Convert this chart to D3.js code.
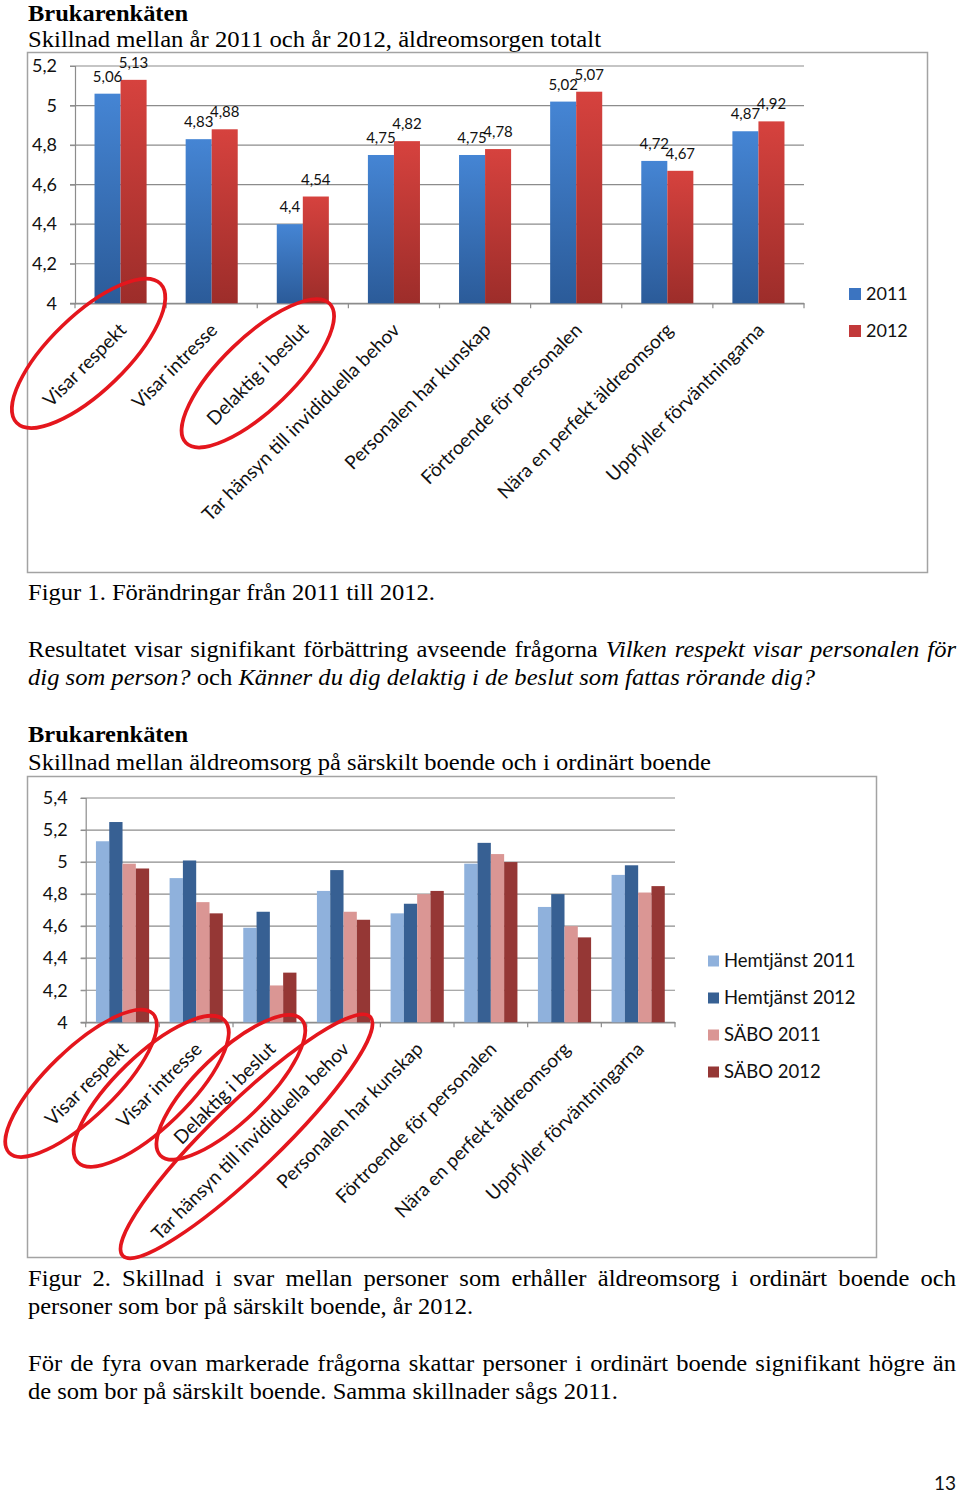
<!DOCTYPE html>
<html><head><meta charset="utf-8">
<script src="https://cdn.jsdelivr.net/npm/d3@7"></script>
<style>body{margin:0;background:#fff}svg{display:block}</style>
</head><body>
<svg id="s" width="960" height="1494"></svg>
<script>
// ---------- data ----------
const categories = ["Visar respekt","Visar intresse","Delaktig i beslut","Tar hänsyn till invididuella behov","Personalen har kunskap","Förtroende för personalen","Nära en perfekt äldreomsorg","Uppfyller förväntningarna"];
const years = ["2011","2012"];
const total2011 = [5.06,4.83,4.4,4.75,4.75,5.02,4.72,4.87];
const total2012 = [5.13,4.88,4.54,4.82,4.78,5.07,4.67,4.92];
const ticks1 = [4,4.2,4.4,4.6,4.8,5,5.2];

const groups2 = ["Hemtjänst 2011","Hemtjänst 2012","SÄBO 2011","SÄBO 2012"];
const hemtjanst2011 = [5.13,4.90,4.59,4.82,4.68,4.99,4.72,4.92];
const hemtjanst2012 = [5.25,5.01,4.69,4.95,4.74,5.12,4.80,4.98];
const sabo2011 = [4.99,4.75,4.23,4.69,4.80,5.05,4.60,4.81];
const sabo2012 = [4.96,4.68,4.31,4.64,4.82,5.00,4.53,4.85];
const ticks2 = [4,4.2,4.4,4.6,4.8,5,5.2,5.4];

const highlight1 = ["Visar respekt","Delaktig i beslut"];
const highlight2 = ["Visar respekt","Visar intresse","Delaktig i beslut","Tar hänsyn till invididuella behov"];

// ---------- setup ----------
const svg = d3.select("#s");
const SANS = "Lato, 'Open Sans', sans-serif";
const SERIF = "'Liberation Serif', 'Times New Roman', serif";
const fmt = v => String(v).replace(".", ",");
const defs = svg.append("defs");
function grad(id, top, bottom){
  const g = defs.append("linearGradient").attr("id", id).attr("x1",0).attr("y1",0).attr("x2",0).attr("y2",1);
  g.append("stop").attr("offset","0%").attr("stop-color",top);
  g.append("stop").attr("offset","100%").attr("stop-color",bottom);
}
grad("gBlue","#4585d4","#2b5b99");
grad("gRed","#d6423e","#9d2d2a");

// ---------- body text ----------
const FS = 24;
function measure(txt, bold, italic){
  const t = svg.append("text").attr("font-family",SERIF).attr("font-size",FS)
    .attr("font-weight",bold?"bold":"normal").attr("font-style",italic?"italic":"normal").text(txt);
  const w = t.node().getComputedTextLength(); t.remove(); return w;
}
const textLines = [
  {y:21, w:160, bold:true, seg:[["Brukarenkäten",0]]},
  {y:47, w:573, seg:[["Skillnad mellan år 2011 och år 2012, äldreomsorgen totalt",0]]},
  {y:600, w:407, seg:[["Figur 1. Förändringar från 2011 till 2012.",0]]},
  {y:657, justify:true, seg:[["Resultatet visar signifikant förbättring avseende frågorna",0],["Vilken respekt visar personalen för",1]]},
  {y:685, w:787, seg:[["dig som person?",1],["och",0],["Känner du dig delaktig i de beslut som fattas rörande dig?",1]]},
  {y:742, w:160, bold:true, seg:[["Brukarenkäten",0]]},
  {y:770, w:683, seg:[["Skillnad mellan äldreomsorg på särskilt boende och i ordinärt boende",0]]},
  {y:1286, justify:true, seg:[["Figur 2. Skillnad i svar mellan personer som erhåller äldreomsorg i ordinärt boende och",0]]},
  {y:1314, w:445, seg:[["personer som bor på särskilt boende, år 2012.",0]]},
  {y:1371, justify:true, seg:[["För de fyra ovan markerade frågorna skattar personer i ordinärt boende signifikant högre än",0]]},
  {y:1399, w:590, seg:[["de som bor på särskilt boende. Samma skillnader sågs 2011.",0]]}
];
const X0 = 28, X1 = 956;
const spaceW = measure("a a",false,false) - measure("aa",false,false);
textLines.forEach(L => {
  L.words = [];
  L.seg.forEach(([s,it]) => s.split(" ").forEach(w => L.words.push({w, it, nat: measure(w, L.bold, it)})));
  L.sum = d3.sum(L.words, d => d.nat);
});
const ks = textLines.filter(L => !L.justify && !L.bold).map(L => L.w / (L.sum + spaceW*(L.words.length-1)));
const K = d3.mean(ks);
textLines.forEach(L => {
  let k, gap;
  if (L.justify){ k = K; gap = (X1 - X0 - L.sum*k)/(L.words.length-1); }
  else { k = L.w / (L.sum + spaceW*(L.words.length-1)); gap = spaceW*k; }
  let x = X0;
  L.words.forEach(d => {
    svg.append("text").attr("x",x).attr("y",L.y).attr("font-family",SERIF).attr("font-size",FS)
      .attr("font-weight",L.bold?"bold":"normal").attr("font-style",d.it?"italic":"normal")
      .attr("textLength", d.nat*k).attr("lengthAdjust","spacingAndGlyphs").attr("fill","#000").text(d.w);
    x += d.nat*k + gap;
  });
});

// ---------- generic chart ----------
function chart(o){
  svg.append("rect").attr("x",o.frame[0]).attr("y",o.frame[1]).attr("width",o.frame[2]).attr("height",o.frame[3])
    .attr("fill","none").attr("stroke","#a3a3a3").attr("stroke-width",1.5);
  const x0 = d3.scaleBand().domain(categories).range([o.left,o.right]);
  const x1 = d3.scaleBand().domain(o.keys).range([0,x0.bandwidth()]).paddingOuter(o.pad);
  const y = d3.scaleLinear().domain(o.domain).range([o.bottom,o.top]);
  const g = svg.append("g");
  g.selectAll(".gl").data(o.ticks).join("line")
    .attr("x1",o.left-5).attr("x2",o.right).attr("y1",d=>y(d)).attr("y2",d=>y(d))
    .attr("stroke","#8c8c8c").attr("stroke-width",1.2);
  const ya = g.append("g").attr("transform",`translate(${o.left},0)`)
    .call(d3.axisLeft(y).tickValues(o.ticks).tickFormat(fmt).tickSize(5).tickPadding(13));
  ya.select(".domain").attr("stroke","#8c8c8c").attr("stroke-width",1.2);
  ya.selectAll(".tick line").attr("stroke","#8c8c8c");
  ya.selectAll(".tick text").attr("font-family",SANS).attr("font-size",18).attr("fill","#111");
  const xa = g.append("g").attr("transform",`translate(0,${o.bottom})`)
    .call(d3.axisBottom(x0).tickSize(0).tickFormat(""));
  xa.select(".domain").attr("stroke","#8c8c8c").attr("stroke-width",1.2);
  const bounds = categories.map(c => x0(c)).concat([o.right]);
  g.selectAll(".xt").data(bounds).join("line").attr("x1",d=>d).attr("x2",d=>d)
    .attr("y1",o.bottom).attr("y2",o.bottom+5).attr("stroke","#8c8c8c").attr("stroke-width",1.2);
  const rows = categories.map((c,i) => o.keys.map((k,j) => ({c, k, v:o.series[j][i], j})));
  const bg = g.selectAll(".grp").data(rows).join("g").attr("transform",(d,i)=>`translate(${x0(categories[i])},0)`);
  bg.selectAll("rect").data(d=>d).join("rect")
    .attr("x",d=>x1(d.k)).attr("width",x1.bandwidth())
    .attr("y",d=>y(d.v)).attr("height",d=>y(o.domain[0])-y(d.v))
    .attr("fill",d=>o.colors[d.j]);
  if (o.labels){
    bg.selectAll("text.lab").data(d=>d).join("text").attr("class","lab")
      .attr("x",d=>x1(d.k)+x1.bandwidth()/2).attr("y",d=>y(d.v)-12)
      .attr("text-anchor","middle").attr("font-family",SANS).attr("font-size",15).attr("fill","#111")
      .text(d=>fmt(d.v));
  }
  g.selectAll(".cl").data(categories).join("text")
    .attr("transform",d=>`translate(${x0(d)+x0.bandwidth()/2+o.labDx},${o.bottom+o.labDy}) rotate(-45)`)
    .attr("text-anchor","end").attr("font-family",SANS).attr("font-size",19).attr("fill","#111").text(d=>d);
  o.keys.forEach((k,j) => {
    const ly = o.legY + j*o.legStep;
    g.append("rect").attr("x",o.legX).attr("y",ly-o.legSq/2).attr("width",o.legSq).attr("height",o.legSq).attr("fill",o.legColors[j]);
    g.append("text").attr("x",o.legX+o.legSq+5).attr("y",ly).attr("dy","0.35em")
      .attr("font-family",SANS).attr("font-size",o.legFs).attr("fill","#111").text(k);
  });
  o.marks.forEach(m => {
    const cx = x0(m.c)+x0.bandwidth()/2;
    g.append("ellipse").attr("transform",`translate(${cx+m.dx},${o.bottom+m.dy}) rotate(-44)`)
      .attr("rx",m.rx).attr("ry",m.ry).attr("fill","none").attr("stroke","#e4161d").attr("stroke-width",3.6);
  });
}

chart({
  frame:[27.5,52.5,900,520], left:75, right:804, top:66, bottom:303.3,
  domain:[4,5.2], ticks:ticks1, keys:years, pad:0.75,
  series:[total2011,total2012], colors:["url(#gBlue)","url(#gRed)"], labels:true,
  labDx:7, labDy:28,
  legX:849, legY:294, legStep:37, legSq:12, legFs:18, legColors:["#3b74c1","#c2393a"],
  marks:[
    {c:highlight1[0], dx:-32, dy:50, rx:100, ry:38},
    {c:highlight1[1], dx:-45, dy:70, rx:100, ry:36}
  ]
});

chart({
  frame:[27.5,776.5,849,481], left:85.7, right:675, top:798, bottom:1022.3,
  domain:[4,5.4], ticks:ticks2, keys:groups2, pad:0.77,
  series:[hemtjanst2011,hemtjanst2012,sabo2011,sabo2012],
  colors:["#8fb1dc","#376093","#da9694","#953735"], labels:false,
  labDx:7, labDy:28,
  legX:708, legY:961, legStep:37, legSq:11, legFs:18.5, legColors:["#8fb1dc","#376093","#da9694","#953735"],
  marks:[
    {c:highlight2[0], dx:-41.5, dy:61, rx:100, ry:34},
    {c:highlight2[1], dx:-45, dy:69, rx:102, ry:36},
    {c:highlight2[2], dx:-39, dy:65, rx:98, ry:34},
    {c:highlight2[3], dx:-97, dy:114, rx:172, ry:34}
  ]
});

svg.append("text").attr("x",956).attr("y",1490).attr("text-anchor","end")
  .attr("font-family",SANS).attr("font-size",19).attr("fill","#111").text("13");
</script>
</body></html>
